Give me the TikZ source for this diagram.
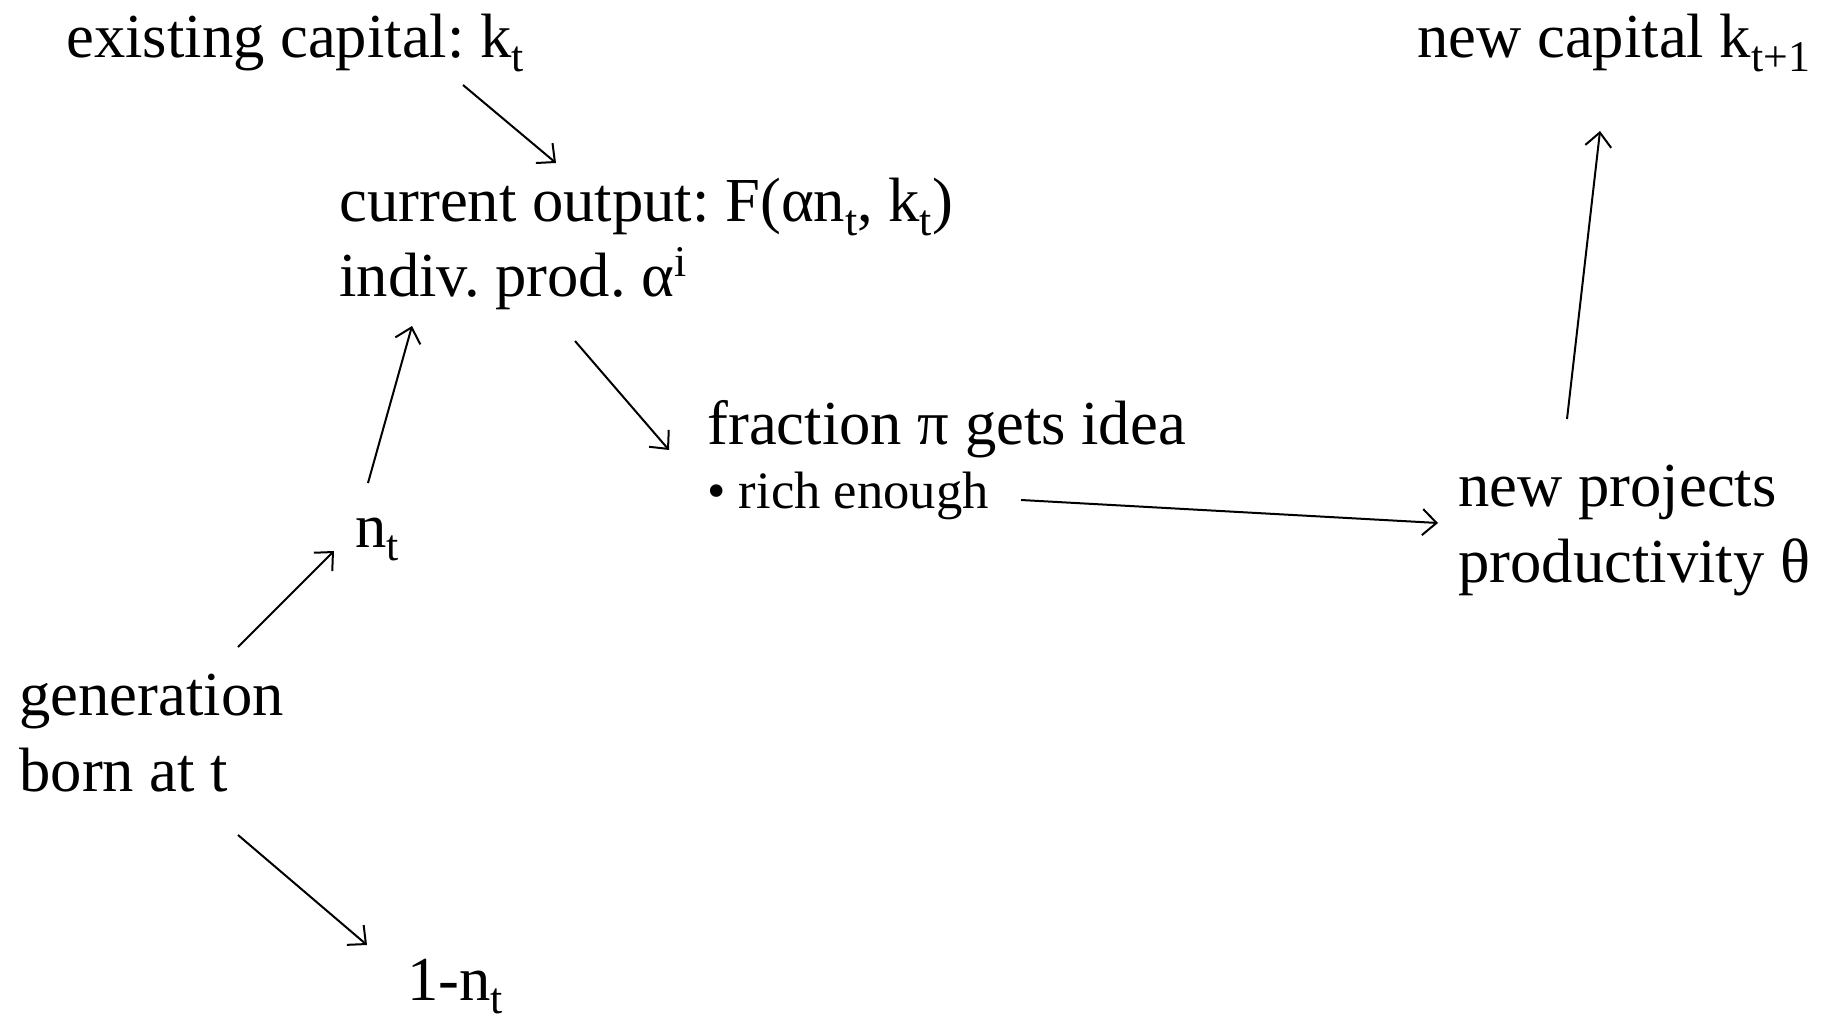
\documentclass[tikz,border=0pt]{standalone}
\usepackage{fontspec}
\usepackage{graphicx}
\setmainfont{Liberation Serif}
\usetikzlibrary{arrows.meta,positioning}
\newcommand{\lowidx}[1]{\raisebox{-0.22em}{\scalebox{0.7}{#1}}}
\newcommand{\highidx}[1]{\raisebox{0.32em}{\scalebox{0.7}{#1}}}
\frenchspacing

\begin{document}
\begin{tikzpicture}[
            x=0.5pt, y=-0.5pt,
            lbl/.style={
                    inner sep=0pt,
                    anchor=base west,
                    align=left,
                    font=\fontsize{31.3}{37.8}\selectfont
                },
            small/.style={font=\fontsize{26.3}{31}\selectfont},
            arrow/.style={->, >={Straight Barb[length=7pt,width=13pt]}, line width=1pt}
        ]
        \useasboundingbox (0,0) rectangle (1824,1021);

        % base of a two-line node is its last line
        \node[lbl] (exist) at (66,58) {existing capital: k\lowidx{t}};
        \node[lbl] (cur) at (339,297) {current output: F(αn\lowidx{t}, k\lowidx{t})\\indiv. prod. α\highidx{i}};
        \node[lbl] (frac) at (707,444) {fraction π gets idea};
        \node[lbl, small] (rich) at (707,508) {• rich enough};
        \node[lbl] (proj) at (1458,582) {new projects\\productivity θ};
        \node[lbl] (newcap) at (1417,58) {new capital k\lowidx{t+1}};
        \node[lbl] (nt) at (355,547) {n\lowidx{t}};
        \node[lbl] (gen) at (19,791) {generation\\born at t};
        \node[lbl] (rest) at (407,1000) {1-n\lowidx{t}};

        \draw[arrow] ([shift={(397,27)}]exist.base west) -- ([shift={(217,-134)}]cur.base west);
        \draw[arrow] ([shift={(13,-64)}]nt.base west) -- ([shift={(73,29)}]cur.base west);
        \draw[arrow] ([shift={(236,44)}]cur.base west) -- ([shift={(-38,6)}]frac.base west);
        \draw[arrow] ([shift={(314,-8)}]rich.base west) -- ([shift={(-20,-59)}]proj.base west);
        \draw[arrow] ([shift={(109,-163)}]proj.base west) -- ([shift={(183,73)}]newcap.base west);
        \draw[arrow] ([shift={(219,-144)}]gen.base west) -- ([shift={(-21,4)}]nt.base west);
        \draw[arrow] ([shift={(219,44)}]gen.base west) -- ([shift={(-40,-55)}]rest.base west);
    \end{tikzpicture}
\end{document}
